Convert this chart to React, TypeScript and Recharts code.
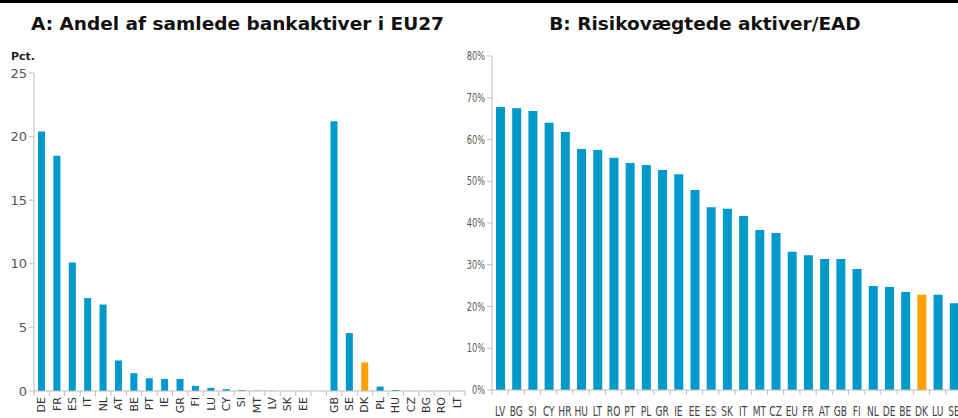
import React from 'react';
import { BarChart, Bar, XAxis, YAxis, Cell } from 'recharts';

// A: andel af samlede bankaktiver i EU27 (pct.)
const countriesA = ['DE', 'FR', 'ES', 'IT', 'NL', 'AT', 'BE', 'PT', 'IE', 'GR', 'FI', 'LU', 'CY', 'SI', 'MT', 'LV', 'SK', 'EE', '', 'GB', 'SE', 'DK', 'PL', 'HU', 'CZ', 'BG', 'RO', 'LT'];
const sharesA = [20.4, 18.5, 10.1, 7.3, 6.8, 2.4, 1.4, 1.0, 0.95, 0.95, 0.4, 0.25, 0.15, 0.08, 0.03, 0.02, 0.01, 0.01, null, 21.2, 4.55, 2.25, 0.35, 0.08, 0.01, 0.01, 0.01, 0.01];
const ticksA = [0, 5, 10, 15, 20, 25];

// B: risikovægtede aktiver / EAD (pct.)
const countriesB = ['LV', 'BG', 'SI', 'CY', 'HR', 'HU', 'LT', 'RO', 'PT', 'PL', 'GR', 'IE', 'EE', 'ES', 'SK', 'IT', 'MT', 'CZ', 'EU', 'FR', 'AT', 'GB', 'FI', 'NL', 'DE', 'BE', 'DK', 'LU', 'SE'];
const ratiosB = [67.8, 67.5, 66.8, 64.0, 61.8, 57.7, 57.5, 55.6, 54.4, 53.9, 52.7, 51.7, 47.9, 43.8, 43.4, 41.7, 38.3, 37.6, 33.1, 32.3, 31.4, 31.4, 29.0, 24.9, 24.7, 23.5, 22.8, 22.8, 20.8];
const ticksB = [0, 10, 20, 30, 40, 50, 60, 70, 80];

const highlight = 'DK';
const BLUE = '#0099cc';
const ORANGE = '#ffa200';
const AXIS = '#bdbdbd';
const NARROW = "'Liberation Sans Narrow', 'DejaVu Sans Condensed', sans-serif";

const dataA = countriesA.map((c, i) => ({ country: c, value: sharesA[i] }));
const dataB = countriesB.map((c, i) => ({ country: c, value: ratiosB[i] }));

const makeTick = (bw: number, n: number, rotated: boolean) => (props: any) => {
  const { x, y, payload, index } = props;
  return (
    <g>
      <line x1={x - bw / 2} x2={x - bw / 2} y1={y} y2={y + 5} stroke={AXIS} />
      {index === n - 1 && <line x1={x + bw / 2} x2={x + bw / 2} y1={y} y2={y + 5} stroke={AXIS} />}
      {rotated ? (
        <text
          transform={`translate(${x},${y + 6}) rotate(-90)`}
          textAnchor="end"
          dominantBaseline="central"
          fontSize={11}
          fontFamily="DejaVu Sans, Verdana, sans-serif"
          fill="#333"
        >
          {payload.value}
        </text>
      ) : (
        <text
          transform={`translate(${x},${y + 26}) scale(0.72,1)`}
          textAnchor="middle"
          fontSize={14}
          fontFamily={NARROW}
          fill="#444"
        >
          {payload.value}
        </text>
      )}
    </g>
  );
};

const PctTick = (props: any) => {
  const { x, y, payload } = props;
  return (
    <text
      transform={`translate(${x},${y + 4}) scale(0.7,1)`}
      textAnchor="end"
      fontSize={13}
      fontFamily={NARROW}
      fill="#555"
    >
      {`${payload.value}%`}
    </text>
  );
};

const App: React.FC = () => {
  const bwA = (465 - 34) / countriesA.length;
  const bwB = 16.2;
  const title: React.CSSProperties = {
    position: 'absolute', top: 13, textAlign: 'center',
    fontFamily: 'DejaVu Sans, Verdana, sans-serif', fontWeight: 'bold', fontSize: 18.5, color: '#111',
  };
  return (
    <div style={{ position: 'fixed', left: 0, top: 0, width: 958, height: 418, overflow: 'hidden', background: '#fff' }}>
      <div style={{ position: 'absolute', left: 0, top: 0, width: 958, height: 3, background: '#000' }} />
      <div style={{ ...title, left: 0, width: 475 }}>A: Andel af samlede bankaktiver i EU27</div>
      <div style={{ ...title, left: 480, width: 450 }}>B: Risikovægtede aktiver/EAD</div>
      <div
        style={{
          position: 'absolute', left: 11, top: 50,
          fontFamily: 'DejaVu Sans, Verdana, sans-serif', fontWeight: 'bold', fontSize: 11, color: '#222',
        }}
      >
        Pct.
      </div>

      <div style={{ position: 'absolute', left: 0, top: 0 }}>
        <BarChart width={480} height={418} data={dataA} margin={{ top: 73, right: 15, bottom: 0, left: 0 }} barCategoryGap={0}>
          <XAxis
            dataKey="country"
            interval={0}
            height={27}
            stroke={AXIS}
            tickSize={0}
            tickMargin={0}
            tickLine={false}
            tick={makeTick(bwA, countriesA.length, true)}
          />
          <YAxis
            width={34}
            domain={[0, 25]}
            ticks={ticksA}
            stroke={AXIS}
            tickSize={5}
            tick={{ fill: '#555', fontSize: 13, fontFamily: 'DejaVu Sans, Verdana, sans-serif' }}
          />
          <Bar dataKey="value" barSize={7} isAnimationActive={false}>
            {dataA.map((d) => (
              <Cell key={d.country || 'gap'} fill={d.country === highlight ? ORANGE : BLUE} />
            ))}
          </Bar>
        </BarChart>
      </div>

      <div style={{ position: 'absolute', left: 440, top: 0 }}>
        <BarChart width={522} height={418} data={dataB} margin={{ top: 56, right: 0, bottom: 0, left: 0 }} barCategoryGap={0}>
          <XAxis
            dataKey="country"
            interval={0}
            height={28}
            stroke={AXIS}
            tickSize={0}
            tickMargin={0}
            tickLine={false}
            tick={makeTick(bwB, countriesB.length, false)}
          />
          <YAxis
            width={52}
            domain={[0, 80]}
            ticks={ticksB}
            stroke={AXIS}
            tickSize={5}
            tick={<PctTick />}
          />
          <Bar dataKey="value" barSize={9} isAnimationActive={false}>
            {dataB.map((d) => (
              <Cell key={d.country} fill={d.country === highlight ? ORANGE : BLUE} />
            ))}
          </Bar>
        </BarChart>
      </div>
    </div>
  );
};

export default App;
